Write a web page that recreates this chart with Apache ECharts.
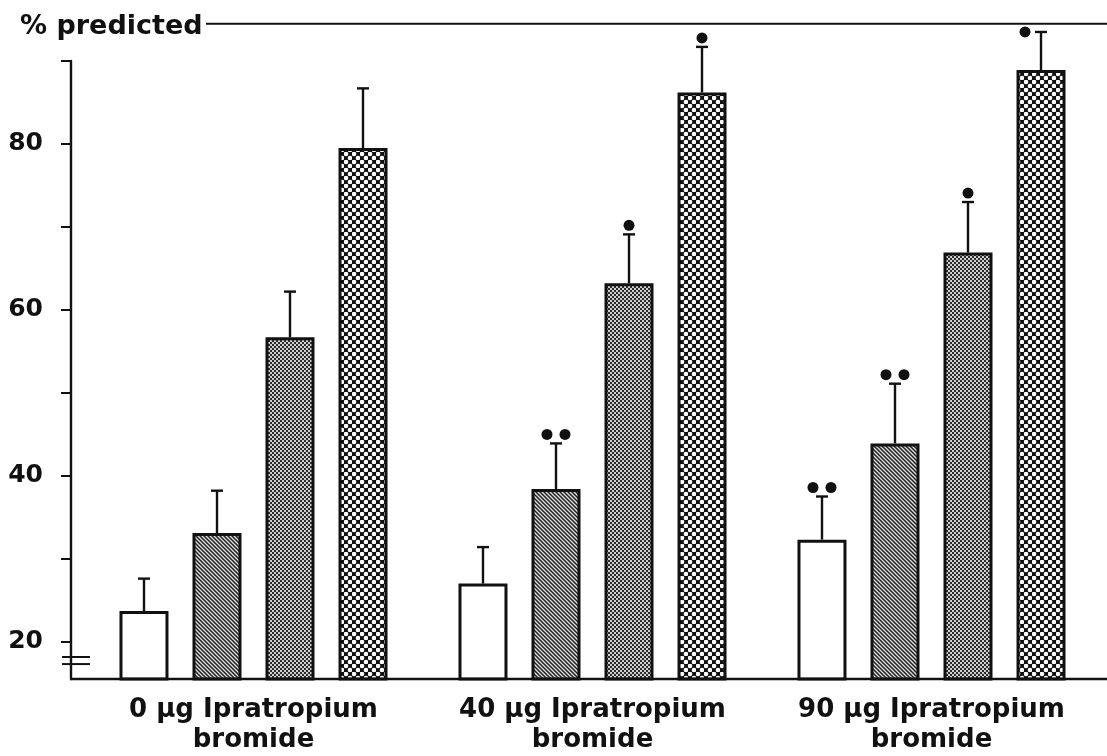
<!DOCTYPE html>
<html>
<head>
<meta charset="utf-8">
<script src="https://cdn.jsdelivr.net/npm/echarts@6/dist/echarts.min.js"></script>
<style>
html,body{margin:0;padding:0;background:#fff;}
#chart{width:1107px;height:756px;}
</style>
</head>
<body>
<div id="chart"></div>
<script>
// ---------------- data ----------------
const categories = ['0 \u03bcg Ipratropium\nbromide', '40 \u03bcg Ipratropium\nbromide', '90 \u03bcg Ipratropium\nbromide'];
const seriesNames = ['Condition A', 'Condition B', 'Condition C', 'Condition D'];
const meanA = [23.7, 27.0, 32.3];
const meanB = [33.1, 38.4, 43.9];
const meanC = [56.7, 63.2, 66.9];
const meanD = [79.5, 86.2, 88.9];
const sdA = [3.9, 4.4, 5.2];
const sdB = [5.1, 5.5, 7.2];
const sdC = [5.5, 5.9, 6.1];
const sdD = [7.2, 5.5, 4.6];
const sigA = ['', '', '**'];
const sigB = ['', '**', '**'];
const sigC = ['', '*', '*'];
const sigD = ['', '*', '*'];
const yTickValues = [20, 30, 40, 50, 60, 70, 80, 90];
const yLabelValues = [20, 40, 60, 80];
const yAxisTitle = '% predicted';

// ---------------- styling ----------------
const FONT = 'DejaVu Sans';
const INK = '#111111';
const BAR_W = 49;
const BAR_STEP = 73;

function makeTile(w, h, draw) {
  const c = document.createElement('canvas');
  c.width = w; c.height = h;
  const g = c.getContext('2d');
  draw(g, w, h);
  return c;
}
const patWhite = '#ffffff';
const patHatch = makeTile(4, 4, function (g, w, h) {
  g.fillStyle = '#e2e2e2'; g.fillRect(0, 0, w, h);
  g.strokeStyle = '#1e1e1e'; g.lineWidth = 1.5;
  g.beginPath();
  [-w, 0, w].forEach(function (o) {
    g.moveTo(o - 1, -1); g.lineTo(o + w + 1, h + 1);
  });
  g.stroke();
});
const patDots = makeTile(4, 4, function (g, w, h) {
  g.fillStyle = '#d0d0d0'; g.fillRect(0, 0, w, h);
  g.fillStyle = '#2c2c2c';
  g.fillRect(0, 0, 2, 2);
  g.fillRect(2, 2, 2, 2);
});
const patCross = makeTile(8, 8, function (g, w, h) {
  g.fillStyle = '#111'; g.fillRect(0, 0, w, h);
  g.fillStyle = '#ffffff';
  [[2, 2], [6, 6]].forEach(function (p) {
    g.beginPath(); g.arc(p[0], p[1], 2.3, 0, Math.PI * 2); g.fill();
  });
});
const fills = [patWhite, { image: patHatch, repeat: 'repeat' }, { image: patDots, repeat: 'repeat' }, { image: patCross, repeat: 'repeat' }];

const means = [meanA, meanB, meanC, meanD];
const sds = [sdA, sdB, sdC, sdD];
const sigs = [sigA, sigB, sigC, sigD];

function errRenderer(k) {
  return function (params, api) {
    const cat = api.value(0), mean = api.value(1), top = api.value(2);
    const p0 = api.coord([cat, mean]);
    const p1 = api.coord([cat, top]);
    const x = p0[0] + (k - 1.5) * BAR_STEP;
    const children = [
      { type: 'line', shape: { x1: x, y1: p0[1], x2: x, y2: p1[1] }, style: { stroke: INK, lineWidth: 2.4 } },
      { type: 'line', shape: { x1: x - 6, y1: p1[1], x2: x + 6, y2: p1[1] }, style: { stroke: INK, lineWidth: 2.4 } }
    ];
    const sig = sigs[k][params.dataIndex];
    const n = sig.length;
    if (n > 0) {
      const limit = api.coord([0, 90])[1] - 30;
      let cy = p1[1] - 9;
      let xs;
      if (cy < limit) {
        cy = p1[1];
        xs = [x - 16];
      } else if (n === 1) {
        xs = [x];
      } else {
        xs = [x - 9, x + 9];
      }
      xs.forEach(function (cx) {
        children.push({ type: 'circle', shape: { cx: cx, cy: cy, r: 5.5 }, style: { fill: INK } });
      });
    }
    return { type: 'group', children: children };
  };
}

const series = [];
for (let k = 0; k < 4; k++) {
  series.push({
    name: seriesNames[k],
    type: 'bar',
    data: means[k],
    barWidth: BAR_W,
    barGap: ((BAR_STEP - BAR_W) / BAR_W * 100).toFixed(1) + '%',
    itemStyle: { color: fills[k], borderColor: INK, borderWidth: 3 },
    z: 2
  });
}
for (let k = 0; k < 4; k++) {
  series.push({
    type: 'custom',
    renderItem: errRenderer(k),
    data: means[k].map(function (m, i) { return [i, m, +(m + sds[k][i]).toFixed(2)]; }),
    clip: false,
    z: 3,
    silent: true
  });
}

const chart = echarts.init(document.getElementById('chart'), null, { renderer: 'canvas' });
chart.setOption({
  animation: false,
  backgroundColor: '#ffffff',
  title: {
    text: yAxisTitle, left: 15, top: 8,
    textStyle: { fontFamily: FONT, fontSize: 27, fontWeight: 'bold', color: INK }
  },
  grid: { left: 84, right: 6, top: 61, bottom: 77, containLabel: false, outerBoundsMode: 'none' },
  xAxis: {
    type: 'category',
    data: categories,
    axisLine: { show: false },
    axisTick: { show: false },
    axisLabel: {
      interval: 0,
      fontFamily: FONT, fontSize: 26, fontWeight: 'bold', color: INK,
      lineHeight: 30, margin: 16
    }
  },
  yAxis: {
    type: 'value',
    min: 15.5, max: 90,
    offset: 13,
    splitLine: { show: false },
    axisLine: { show: true, lineStyle: { color: INK, width: 2.4 } },
    axisTick: { show: true, length: 10, lineStyle: { color: INK, width: 2 }, customValues: yTickValues },
    axisLabel: {
      customValues: yLabelValues, margin: 28,
      fontFamily: FONT, fontSize: 25, fontWeight: 'bold', color: INK
    }
  },
  series: series
});

// decorative frame pieces: bottom baseline, top border line, axis break marks
const yBottom = chart.convertToPixel({ yAxisIndex: 0 }, 15.5);
const yTop = chart.convertToPixel({ yAxisIndex: 0 }, 94.5);
const yBreak1 = chart.convertToPixel({ yAxisIndex: 0 }, 18.15);
const yBreak2 = chart.convertToPixel({ yAxisIndex: 0 }, 17.3);
const axisX = 84 - 13;
chart.setOption({
  graphic: [
    { type: 'line', shape: { x1: axisX - 1, y1: yBottom, x2: 1107, y2: yBottom }, style: { stroke: INK, lineWidth: 2.4 }, z: 5 },
    { type: 'line', shape: { x1: 206, y1: yTop, x2: 1107, y2: yTop }, style: { stroke: INK, lineWidth: 2 }, z: 5 },
    { type: 'line', shape: { x1: axisX - 9, y1: yBreak1, x2: axisX + 19, y2: yBreak1 }, style: { stroke: INK, lineWidth: 2 }, z: 5 },
    { type: 'line', shape: { x1: axisX - 9, y1: yBreak2, x2: axisX + 19, y2: yBreak2 }, style: { stroke: INK, lineWidth: 2 }, z: 5 }
  ]
});
</script>
</body>
</html>
